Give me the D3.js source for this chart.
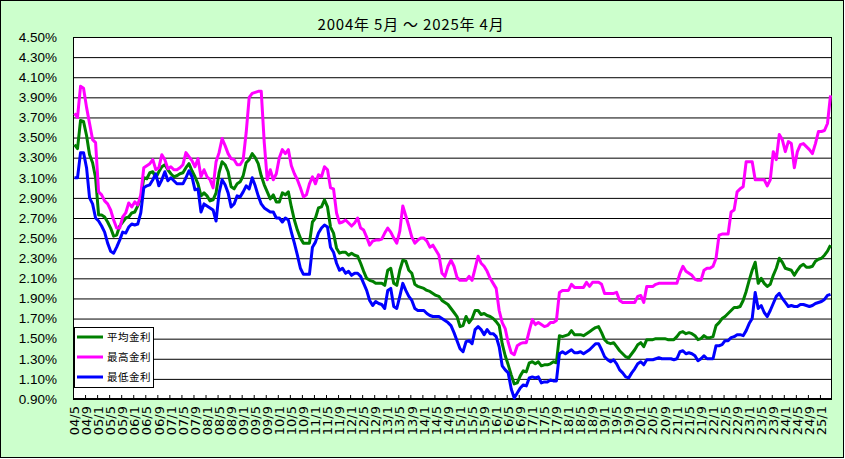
<!DOCTYPE html>
<html>
<head>
<meta charset="utf-8">
<script src="https://cdn.jsdelivr.net/npm/d3@7"></script>
<style>
  body { margin: 0; background: #fff; }
  svg { display: block; }
</style>
</head>
<body>
<svg id="chart" width="845" height="459"></svg>
<script>
// monthly rates in %, 2004/5 .. 2025/4, one row = 12 months starting in May
var avgRate = [
  3.43, 3.39, 3.67, 3.66, 3.52, 3.33, 3.25, 3.10, 2.73, 2.73, 2.71, 2.66,
  2.60, 2.52, 2.53, 2.62, 2.66, 2.70, 2.71, 2.75, 2.76, 2.82, 2.90, 3.10,
  3.09, 3.15, 3.16, 3.10, 3.16, 3.21, 3.23, 3.18, 3.14, 3.11, 3.12, 3.14,
  3.15, 3.20, 3.24, 3.17, 3.11, 3.04, 2.92, 2.95, 2.92, 2.87, 2.88, 2.95,
  3.15, 3.26, 3.23, 3.16, 3.01, 2.99, 3.04, 3.06, 3.12, 3.25, 3.28, 3.34,
  3.30, 3.24, 3.12, 3.03, 2.96, 2.89, 2.93, 2.86, 2.86, 2.95, 2.93, 2.96,
  2.81, 2.68, 2.58, 2.50, 2.45, 2.45, 2.45, 2.66, 2.70, 2.80, 2.81, 2.88,
  2.81, 2.61, 2.55, 2.40, 2.35, 2.36, 2.36, 2.33, 2.35, 2.33, 2.32, 2.25,
  2.17, 2.10, 2.08, 2.07, 2.05, 2.05, 2.05, 2.03, 2.18, 2.20, 2.05, 2.03,
  2.18, 2.28, 2.27, 2.18, 2.15, 2.04, 2.02, 2.01, 2.00, 1.98, 1.97, 1.95,
  1.93, 1.92, 1.88, 1.86, 1.84, 1.80, 1.76, 1.72, 1.62, 1.63, 1.72, 1.66,
  1.70, 1.78, 1.78, 1.74, 1.75, 1.73, 1.72, 1.70, 1.67, 1.63, 1.45, 1.33,
  1.24, 1.14, 1.05, 1.06, 1.13, 1.18, 1.17, 1.26, 1.27, 1.25, 1.27, 1.23,
  1.24, 1.24, 1.25, 1.27, 1.26, 1.53, 1.52, 1.53, 1.54, 1.58, 1.54, 1.54,
  1.54, 1.53, 1.55, 1.57, 1.59, 1.61, 1.62, 1.56, 1.49, 1.46, 1.45, 1.46,
  1.42, 1.38, 1.35, 1.32, 1.31, 1.35, 1.39, 1.44, 1.46, 1.42, 1.49, 1.49,
  1.49, 1.50, 1.50, 1.50, 1.50, 1.49, 1.49, 1.49, 1.52, 1.56, 1.57, 1.55,
  1.56, 1.55, 1.53, 1.49, 1.50, 1.53, 1.51, 1.51, 1.52, 1.63, 1.66, 1.70,
  1.72, 1.75, 1.78, 1.81, 1.81, 1.82, 1.88, 1.97, 2.08, 2.18, 2.26, 2.05,
  2.10, 2.05, 2.02, 2.04, 2.13, 2.20, 2.30, 2.26, 2.20, 2.19, 2.18, 2.13,
  2.18, 2.22, 2.24, 2.21, 2.21, 2.22, 2.27, 2.29, 2.30, 2.33, 2.37, 2.43
];

var maxRate = [
  3.74, 3.70, 4.01, 3.99, 3.80, 3.64, 3.48, 3.45, 2.96, 2.93, 2.87, 2.84,
  2.78, 2.68, 2.60, 2.60, 2.71, 2.75, 2.85, 2.81, 2.86, 2.83, 2.93, 3.20,
  3.22, 3.24, 3.28, 3.18, 3.20, 3.33, 3.28, 3.19, 3.21, 3.18, 3.18, 3.20,
  3.23, 3.35, 3.31, 3.27, 3.21, 3.29, 3.11, 3.18, 3.11, 3.08, 3.00, 3.26,
  3.35, 3.49, 3.42, 3.34, 3.29, 3.28, 3.23, 3.23, 3.28, 3.55, 3.90, 3.94,
  3.95, 3.96, 3.96, 3.45, 3.08, 3.18, 3.08, 3.14, 3.30, 3.38, 3.34, 3.38,
  3.22, 3.14, 3.08, 3.00, 2.91, 2.93, 3.04, 3.11, 3.04, 3.13, 3.11, 3.21,
  3.18, 3.00, 2.99, 2.75, 2.65, 2.66, 2.68, 2.65, 2.62, 2.65, 2.70, 2.60,
  2.58, 2.51, 2.43, 2.47, 2.48, 2.48, 2.49, 2.55, 2.60, 2.56, 2.50, 2.45,
  2.57, 2.82, 2.72, 2.62, 2.51, 2.45, 2.48, 2.50, 2.50, 2.47, 2.41, 2.43,
  2.38, 2.33, 2.15, 2.12, 2.22, 2.28, 2.22, 2.11, 2.08, 2.08, 2.08, 2.12,
  2.08, 2.20, 2.32, 2.25, 2.22, 2.17, 2.10, 2.05, 2.00, 1.78, 1.66, 1.60,
  1.46, 1.36, 1.34, 1.43, 1.45, 1.46, 1.46, 1.58, 1.69, 1.64, 1.66, 1.64,
  1.62, 1.63, 1.66, 1.66, 1.68, 1.96, 1.98, 1.98, 1.98, 2.04, 2.01, 2.01,
  2.01, 2.01, 2.06, 2.02, 2.06, 2.06, 2.06, 2.04, 1.95, 1.95, 1.95, 1.95,
  1.96, 1.88, 1.86, 1.86, 1.86, 1.86, 1.86, 1.92, 1.93, 1.86, 2.02, 2.02,
  2.02, 2.04, 2.05, 2.05, 2.05, 2.05, 2.05, 2.05, 2.05, 2.15, 2.22, 2.17,
  2.15, 2.13, 2.09, 2.08, 2.08, 2.18, 2.20, 2.20, 2.22, 2.30, 2.53, 2.54,
  2.54, 2.54, 2.76, 2.78, 2.96, 2.99, 3.01, 3.26, 3.26, 3.26, 3.08, 3.08,
  3.08, 3.08, 3.02, 3.08, 3.36, 3.28, 3.53, 3.48, 3.36, 3.46, 3.44, 3.20,
  3.36, 3.43, 3.44, 3.41, 3.38, 3.34, 3.44, 3.56, 3.56, 3.57, 3.64, 3.92
];

var minRate = [
  3.10, 3.10, 3.35, 3.35, 3.20, 2.90, 2.84, 2.70, 2.67, 2.62, 2.56, 2.45,
  2.37, 2.35, 2.41, 2.48, 2.56, 2.55, 2.61, 2.64, 2.63, 2.64, 2.75, 3.00,
  3.02, 3.03, 3.08, 3.14, 3.02, 3.08, 3.16, 3.07, 3.10, 3.07, 3.04, 3.04,
  3.04, 3.10, 3.17, 3.11, 2.98, 2.99, 2.76, 2.84, 2.82, 2.80, 2.78, 2.67,
  2.95, 3.08, 3.03, 2.95, 2.81, 2.84, 2.92, 2.91, 2.96, 3.02, 2.99, 3.10,
  3.02, 2.92, 2.84, 2.80, 2.78, 2.76, 2.76, 2.70, 2.70, 2.66, 2.70, 2.68,
  2.56, 2.45, 2.33, 2.20, 2.14, 2.14, 2.14, 2.41, 2.46, 2.55, 2.60, 2.63,
  2.61, 2.41, 2.36, 2.25, 2.18, 2.20, 2.15, 2.17, 2.13, 2.15, 2.15, 2.12,
  2.05, 1.98, 1.88, 1.83, 1.87, 1.85, 1.84, 1.80, 1.98, 2.00, 1.82, 1.80,
  1.92, 2.05, 1.98, 1.92, 1.88, 1.80, 1.78, 1.78, 1.78, 1.75, 1.73, 1.72,
  1.72, 1.72, 1.70, 1.68, 1.66, 1.63, 1.56, 1.48, 1.40, 1.37, 1.47, 1.48,
  1.45, 1.59, 1.62, 1.59, 1.54, 1.59, 1.55, 1.55, 1.52, 1.42, 1.23, 1.19,
  1.16, 1.00, 0.91, 0.96, 1.01, 1.04, 1.03, 1.11, 1.12, 1.11, 1.12, 1.06,
  1.07, 1.07, 1.09, 1.08, 1.08, 1.35, 1.37, 1.35, 1.37, 1.39, 1.36, 1.36,
  1.37, 1.35, 1.37, 1.39, 1.42, 1.45, 1.45, 1.39, 1.32, 1.29, 1.27, 1.29,
  1.25, 1.19, 1.16, 1.12, 1.11, 1.16, 1.20, 1.25, 1.27, 1.24, 1.29, 1.29,
  1.29, 1.30, 1.31, 1.30, 1.30, 1.30, 1.30, 1.29, 1.30, 1.37, 1.38, 1.35,
  1.36, 1.35, 1.33, 1.28, 1.30, 1.33, 1.30, 1.30, 1.30, 1.43, 1.43, 1.44,
  1.48, 1.48, 1.51, 1.52, 1.54, 1.54, 1.53, 1.58, 1.65, 1.70, 1.96, 1.80,
  1.83, 1.76, 1.72, 1.78, 1.85, 1.92, 1.95, 1.90, 1.86, 1.82, 1.83, 1.82,
  1.82, 1.84, 1.84, 1.83, 1.82, 1.83, 1.85, 1.86, 1.87, 1.89, 1.93, 1.94
];

// one label every 4 months
var tickLabels = [
  '04/5', '04/9', '05/1', '05/5', '05/9', '06/1', '06/5', '06/9', '07/1', '07/5', '07/9',
  '08/1', '08/5', '08/9', '09/1', '09/5', '09/9', '10/1', '10/5', '10/9', '11/1', '11/5',
  '11/9', '12/1', '12/5', '12/9', '13/1', '13/5', '13/9', '14/1', '14/5', '14/9', '15/1',
  '15/5', '15/9', '16/1', '16/5', '16/9', '17/1', '17/5', '17/9', '18/1', '18/5', '18/9',
  '19/1', '19/5', '19/9', '20/1', '20/5', '20/9', '21/1', '21/5', '21/9', '22/1', '22/5',
  '22/9', '23/1', '23/5', '23/9', '24/1', '24/5', '24/9', '25/1'
];

var yTicks = [0.9, 1.1, 1.3, 1.5, 1.7, 1.9, 2.1, 2.3, 2.5, 2.7, 2.9, 3.1, 3.3, 3.5, 3.7, 3.9, 4.1, 4.3, 4.5];

var seriesNames = ['平均金利', '最高金利', '最低金利'];
var seriesColors = ['#008000', '#ff00ff', '#0000ff'];
var titleText = '2004年 5月 ～ 2025年 4月';

var plot = { left: 73, right: 832, top: 37, bottom: 399 };
var months = d3.range(avgRate.length);

var svg = d3.select('#chart');

// chart area
svg.append('rect')
  .attr('x', 0.5).attr('y', 0.5)
  .attr('width', 843).attr('height', 457)
  .attr('fill', '#ccffcc')
  .attr('stroke', '#000');

svg.append('rect')
  .attr('x', plot.left).attr('y', plot.top)
  .attr('width', plot.right - plot.left).attr('height', plot.bottom - plot.top)
  .attr('fill', '#fff');

var x = d3.scaleBand().domain(months).range([plot.left, plot.right]);
var xEdge = d3.scaleLinear().domain([0, months.length]).range([plot.left, plot.right]);
var y = d3.scaleLinear().domain([0.9, 4.5]).range([plot.bottom, plot.top]);

function xc(i) { return x(i) + x.bandwidth() / 2; }

// y axis + gridlines
var yAxis = svg.append('g')
  .attr('transform', 'translate(' + plot.left + ',0)')
  .call(d3.axisLeft(y)
    .tickValues(yTicks)
    .tickFormat(function (d) { return d.toFixed(2) + '%'; })
    .tickSize(-(plot.right - plot.left))
    .tickPadding(16));
yAxis.select('.domain').remove();
yAxis.selectAll('line').attr('stroke', '#000');
yAxis.selectAll('text')
  .attr('fill', '#000')
  .style('font-family', '"Liberation Sans", Arial, sans-serif')
  .style('font-size', '13.5px');

// x tick marks (inside, between categories)
var xTicks = svg.append('g')
  .attr('transform', 'translate(0,' + plot.bottom + ')')
  .call(d3.axisBottom(xEdge)
    .tickValues(d3.range(0, months.length, 4))
    .tickSize(-4)
    .tickFormat(''));
xTicks.select('.domain').remove();
xTicks.selectAll('line').attr('stroke', '#000');

// x labels, rotated, one per 4 months
var xLabels = svg.append('g')
  .attr('transform', 'translate(0,' + plot.bottom + ')');
xLabels.selectAll('text')
  .data(tickLabels)
  .enter().append('text')
  .attr('transform', function (d, k) { return 'translate(' + xc(k * 4) + ',0) rotate(-90)'; })
  .attr('x', -7)
  .attr('dy', '0.36em')
  .attr('text-anchor', 'end')
  .attr('fill', '#000')
  .style('font-family', '"DejaVu Sans", sans-serif')
  .style('font-size', '13px')
  .text(function (d) { return d; });

// plot border
svg.append('rect')
  .attr('x', plot.left + 0.5).attr('y', plot.top + 0.5)
  .attr('width', plot.right - plot.left - 1).attr('height', plot.bottom - plot.top - 1)
  .attr('fill', 'none')
  .attr('stroke', '#000');

// series
var seriesData = [avgRate, maxRate, minRate];
var line = d3.line()
  .x(function (d, i) { return xc(i); })
  .y(function (d) { return y(d); });

svg.append('g').selectAll('path')
  .data(seriesData)
  .enter().append('path')
  .attr('d', line)
  .attr('fill', 'none')
  .attr('stroke', function (d, i) { return seriesColors[i]; })
  .attr('stroke-width', 3)
  .attr('stroke-linejoin', 'round');

// title
svg.append('text')
  .attr('x', 411)
  .attr('y', 30)
  .attr('text-anchor', 'middle')
  .attr('fill', '#000')
  .style('font-family', '"Noto Sans CJK JP", sans-serif')
  .style('font-size', '15px')
  .style('letter-spacing', '0.8px')
  .text(titleText);

// legend
var legend = svg.append('g');
legend.append('rect')
  .attr('x', 74.5).attr('y', 327.5)
  .attr('width', 79).attr('height', 60)
  .attr('fill', '#fff')
  .attr('stroke', '#000');

var items = legend.selectAll('g.item')
  .data(seriesNames)
  .enter().append('g')
  .attr('class', 'item')
  .attr('transform', function (d, i) { return 'translate(0,' + (337 + i * 20) + ')'; });

items.append('line')
  .attr('x1', 77).attr('x2', 103)
  .attr('stroke', function (d, i) { return seriesColors[i]; })
  .attr('stroke-width', 3);

items.append('text')
  .attr('x', 107)
  .attr('dy', '0.36em')
  .attr('fill', '#000')
  .style('font-family', '"Noto Sans CJK JP", sans-serif')
  .style('font-size', '10.5px')
  .style('letter-spacing', '0.5px')
  .text(function (d) { return d; });
</script>
</body>
</html>
